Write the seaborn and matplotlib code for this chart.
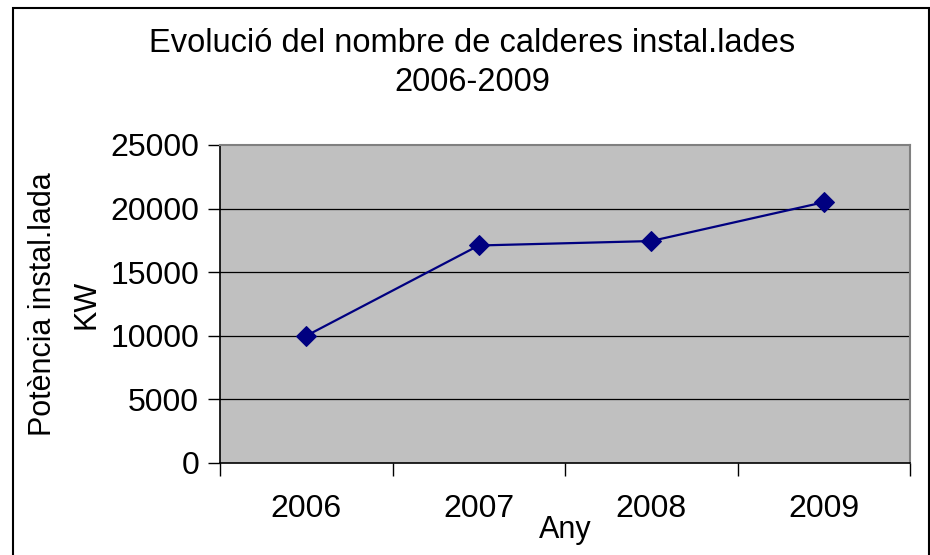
import matplotlib
matplotlib.use("Agg")
import matplotlib.pyplot as plt
import seaborn as sns
import pandas as pd
from matplotlib.patches import Rectangle

years = ["2006", "2007", "2008", "2009"]
power_kw = [10000, 17100, 17450, 20500]
y_ticks = [0, 5000, 10000, 15000, 20000, 25000]

title = "Evolució del nombre de calderes instal.lades\n2006-2009"
xlabel = "Any"
ylabel = "Potència instal.lada\nKW"

sns.set_theme(style="white")
plt.rcParams["font.family"] = ["Liberation Sans", "DejaVu Sans"]
plt.rcParams["text.color"] = "black"
plt.rcParams["axes.labelcolor"] = "black"
plt.rcParams["xtick.color"] = "black"
plt.rcParams["ytick.color"] = "black"

df = pd.DataFrame({"Any": years, "KW": power_kw})

fig = plt.figure(figsize=(9.3, 5.55), dpi=100)
ax = fig.add_axes([220 / 930, 1 - 463 / 555, 690 / 930, 318 / 555])
ax.set_facecolor("#C0C0C0")

sns.lineplot(data=df, x="Any", y="KW", ax=ax, color="#000080", marker="D",
             markersize=10, markeredgecolor="#000080", linewidth=1.6, sort=False)

ax.set_xlim(-0.5, 3.5)
ax.set_ylim(0, 25000)
ax.set_yticks(y_ticks)
ax.set_yticklabels([str(v) for v in y_ticks], fontsize=23, color="black")
for v in y_ticks[1:-1]:
    ax.axhline(v, color="black", linewidth=0.9, zorder=0.5)

ax.set_xticks(range(len(years)))
ax.set_xticklabels(years, fontsize=23, color="black")
ax.set_xticks([i - 0.5 for i in range(len(years) + 1)], minor=True)
ax.tick_params(axis="x", which="major", length=0, pad=22)
ax.tick_params(axis="x", which="minor", length=9, width=1, color="black", direction="out", bottom=True)
ax.tick_params(axis="y", which="major", length=9, width=1, color="black", direction="out", left=True, pad=6)

for side in ["top", "right"]:
    ax.spines[side].set_color("#808080")
    ax.spines[side].set_linewidth(1.5)
for side in ["left", "bottom"]:
    ax.spines[side].set_color("black")
    ax.spines[side].set_linewidth(1.2)

ax.set_xlabel(xlabel, fontsize=22, labelpad=-6, color="black")
ax.set_ylabel(ylabel, fontsize=22, labelpad=6, color="black", linespacing=1.6)

fig.text(472 / 930, 1 - 63 / 555, title, ha="center", va="center", fontsize=23.5,
         linespacing=1.3, color="black")

fig.patches.append(Rectangle((13 / 930, -0.05), (929 - 13) / 930, 1.05 - 8 / 555,
                             transform=fig.transFigure, fill=False,
                             edgecolor="black", linewidth=1.5))

fig.savefig("out.png", dpi=100)
